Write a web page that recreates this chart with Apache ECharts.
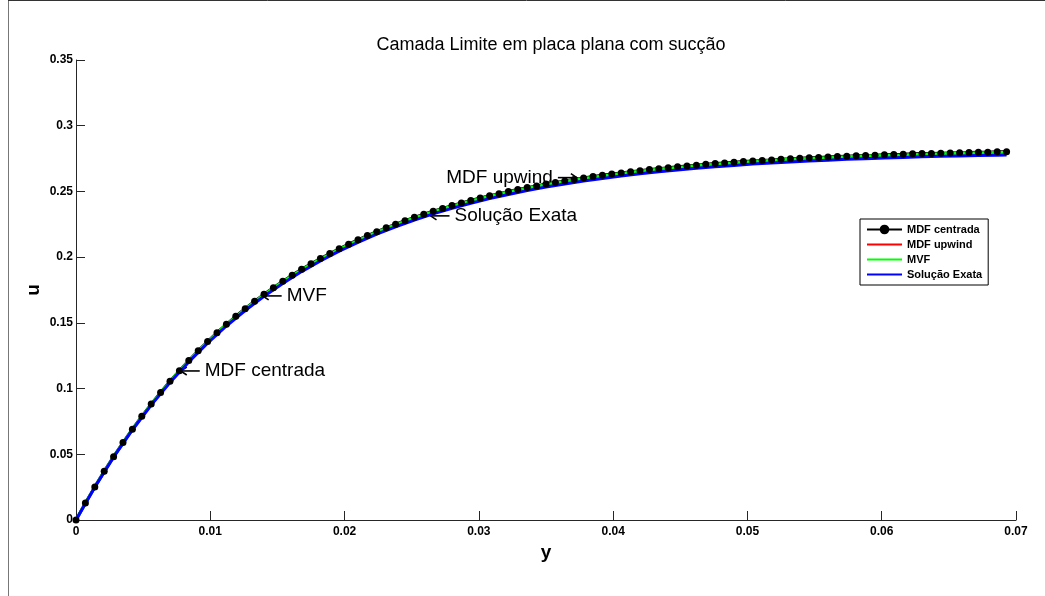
<!DOCTYPE html>
<html>
<head>
<meta charset="utf-8">
<script src="https://cdn.jsdelivr.net/npm/echarts/dist/echarts.min.js"></script>
<style>
  html, body { margin: 0; padding: 0; background: #fff; }
  #main { width: 1045px; height: 596px; }
</style>
</head>
<body>
<div id="main"></div>
<script>
// y (distance from the plate) for the MDF centrada nodes
const yDots = [0, 0.0007, 0.0014, 0.0021, 0.0028, 0.0035, 0.0042, 0.0049, 0.0056, 0.0063,
  0.007, 0.0077, 0.0084, 0.0091, 0.0098, 0.0105, 0.0112, 0.0119, 0.0126, 0.0133,
  0.014, 0.0147, 0.0154, 0.0161, 0.0168, 0.0175, 0.0182, 0.0189, 0.0196, 0.0203,
  0.021, 0.0217, 0.0224, 0.0231, 0.0238, 0.0245, 0.0252, 0.0259, 0.0266, 0.0273,
  0.028, 0.0287, 0.0294, 0.0301, 0.0308, 0.0315, 0.0322, 0.0329, 0.0336, 0.0343,
  0.035, 0.0357, 0.0364, 0.0371, 0.0378, 0.0385, 0.0392, 0.0399, 0.0406, 0.0413,
  0.042, 0.0427, 0.0434, 0.0441, 0.0448, 0.0455, 0.0462, 0.0469, 0.0476, 0.0483,
  0.049, 0.0497, 0.0504, 0.0511, 0.0518, 0.0525, 0.0532, 0.0539, 0.0546, 0.0553,
  0.056, 0.0567, 0.0574, 0.0581, 0.0588, 0.0595, 0.0602, 0.0609, 0.0616, 0.0623,
  0.063, 0.0637, 0.0644, 0.0651, 0.0658, 0.0665, 0.0672, 0.0679, 0.0686, 0.0693]

const uCentrada = [0, 0.0129, 0.0252, 0.0370, 0.0482, 0.0589, 0.0691, 0.0789, 0.0882, 0.0971,
  0.1055, 0.1136, 0.1213, 0.1287, 0.1358, 0.1425, 0.1489, 0.1550, 0.1608, 0.1664,
  0.1717, 0.1768, 0.1816, 0.1863, 0.1907, 0.1949, 0.1989, 0.2027, 0.2064, 0.2099,
  0.2132, 0.2164, 0.2194, 0.2223, 0.2251, 0.2277, 0.2303, 0.2327, 0.2350, 0.2371,
  0.2392, 0.2412, 0.2431, 0.2450, 0.2467, 0.2483, 0.2499, 0.2514, 0.2529, 0.2542,
  0.2556, 0.2568, 0.2580, 0.2591, 0.2602, 0.2613, 0.2623, 0.2632, 0.2641, 0.2650,
  0.2658, 0.2666, 0.2673, 0.2680, 0.2687, 0.2694, 0.2700, 0.2706, 0.2712, 0.2717,
  0.2722, 0.2727, 0.2732, 0.2736, 0.2740, 0.2745, 0.2748, 0.2752, 0.2756, 0.2759,
  0.2762, 0.2765, 0.2768, 0.2771, 0.2774, 0.2776, 0.2779, 0.2781, 0.2783, 0.2786,
  0.2788, 0.2789, 0.2791, 0.2793, 0.2795, 0.2796, 0.2798, 0.2799, 0.2801, 0.2802]

// y for the continuous curves
const yLine = [0, 0.0014, 0.0028, 0.0042, 0.0056, 0.007, 0.0084, 0.0098, 0.0112, 0.0126,
  0.014, 0.0154, 0.0168, 0.0182, 0.0196, 0.021, 0.0224, 0.0238, 0.0252, 0.0266,
  0.028, 0.0294, 0.0308, 0.0322, 0.0336, 0.035, 0.0364, 0.0378, 0.0392, 0.0406,
  0.042, 0.0434, 0.0448, 0.0462, 0.0476, 0.049, 0.0504, 0.0518, 0.0532, 0.0546,
  0.056, 0.0574, 0.0588, 0.0602, 0.0616, 0.063, 0.0644, 0.0658, 0.0672, 0.0686, 0.0693]

const uUpwind = [0, 0.0251, 0.0479, 0.0687, 0.0877, 0.1050, 0.1207, 0.1350, 0.1481, 0.1600,
  0.1708, 0.1807, 0.1897, 0.1978, 0.2053, 0.2121, 0.2183, 0.2239, 0.2290, 0.2337,
  0.2380, 0.2418, 0.2454, 0.2486, 0.2515, 0.2542, 0.2566, 0.2588, 0.2609, 0.2627,
  0.2644, 0.2659, 0.2673, 0.2686, 0.2697, 0.2708, 0.2717, 0.2726, 0.2734, 0.2741,
  0.2748, 0.2754, 0.2759, 0.2764, 0.2769, 0.2773, 0.2777, 0.2780, 0.2783, 0.2786, 0.2787]

const uMvf = [0, 0.0252, 0.0481, 0.0690, 0.0880, 0.1053, 0.1211, 0.1355, 0.1486, 0.1605,
  0.1714, 0.1813, 0.1903, 0.1985, 0.2060, 0.2128, 0.2190, 0.2247, 0.2298, 0.2345,
  0.2388, 0.2427, 0.2463, 0.2495, 0.2524, 0.2551, 0.2575, 0.2598, 0.2618, 0.2636,
  0.2653, 0.2669, 0.2682, 0.2695, 0.2707, 0.2717, 0.2727, 0.2736, 0.2744, 0.2751,
  0.2757, 0.2763, 0.2769, 0.2774, 0.2778, 0.2783, 0.2786, 0.2790, 0.2793, 0.2796, 0.2797]

const uExata = [0, 0.0250, 0.0478, 0.0685, 0.0874, 0.1046, 0.1203, 0.1346, 0.1476, 0.1594,
  0.1702, 0.1800, 0.1890, 0.1971, 0.2046, 0.2113, 0.2175, 0.2231, 0.2282, 0.2329,
  0.2371, 0.2410, 0.2445, 0.2477, 0.2506, 0.2533, 0.2557, 0.2579, 0.2599, 0.2618,
  0.2634, 0.2650, 0.2663, 0.2676, 0.2688, 0.2698, 0.2708, 0.2716, 0.2724, 0.2731,
  0.2738, 0.2744, 0.2749, 0.2754, 0.2759, 0.2763, 0.2767, 0.2770, 0.2773, 0.2776, 0.2777]

// text annotations with an arrow: [label, y, u, arrow direction]
const notes = [
  ['MDF centrada', 0.0078, 0.1134, 'left'],
  ['MVF', 0.0139, 0.1705, 'left'],
  ['Solu\u00e7\u00e3o Exata', 0.0264, 0.2314, 'left'],
  ['MDF upwind', 0.0373, 0.2605, 'right']
]

const FONT = '"Liberation Sans", Arial, Helvetica, sans-serif'
const AXIS_COLOR = '#262626'

const pairs = (xs, ys) => xs.map((x, i) => [x, ys[i]])

const chart = echarts.init(document.getElementById('main'))

const axisCommon = {
  axisLine: { lineStyle: { color: AXIS_COLOR, width: 1 } },
  axisTick: { inside: true, length: 9, lineStyle: { color: AXIS_COLOR } },
  splitLine: { show: false },
  axisLabel: {
    color: '#000',
    fontFamily: FONT,
    fontWeight: 'bold',
    fontSize: 12
  },
  nameTextStyle: {
    color: '#000',
    fontFamily: FONT,
    fontWeight: 'bold',
    fontSize: 19
  }
}

// line-only legend entries: hide the marker drawn in the middle of the icon
const noMarker = { opacity: 0 }

const option = {
  animation: false,
  backgroundColor: '#fff',
  title: {
    text: 'Camada Limite em placa plana com suc\u00e7\u00e3o',
    left: 546,
    top: 31,
    textAlign: 'center',
    textStyle: { fontFamily: FONT, fontSize: 18, fontWeight: 'normal', color: '#000' }
  },
  grid: { left: 76, right: 29, top: 60, bottom: 76, containLabel: false },
  legend: {
    orient: 'vertical',
    left: 860,
    top: 219,
    padding: [5, 6, 5, 6],
    itemWidth: 35,
    itemHeight: 12,
    itemGap: 4,
    borderColor: '#000',
    borderWidth: 1,
    borderRadius: 0,
    backgroundColor: '#fff',
    textStyle: { fontFamily: FONT, fontWeight: 'bold', fontSize: 11, color: '#000' },
    data: [
      { name: 'MDF centrada' },
      { name: 'MDF upwind', itemStyle: noMarker },
      { name: 'MVF', itemStyle: noMarker },
      { name: 'Solu\u00e7\u00e3o Exata', itemStyle: noMarker }
    ]
  },
  xAxis: Object.assign({}, axisCommon, {
    type: 'value',
    min: 0,
    max: 0.07,
    interval: 0.01,
    name: 'y',
    nameLocation: 'middle',
    nameGap: 18,
    axisLabel: Object.assign({}, axisCommon.axisLabel, { margin: 6 })
  }),
  yAxis: Object.assign({}, axisCommon, {
    type: 'value',
    min: 0,
    max: 0.35,
    interval: 0.05,
    axisLine: { show: true, lineStyle: { color: AXIS_COLOR, width: 1 } },
    axisLabel: Object.assign({}, axisCommon.axisLabel, { margin: 3 })
  }),
  series: [
    {
      name: 'MDF centrada',
      type: 'line',
      data: pairs(yDots, uCentrada),
      symbol: 'circle',
      symbolSize: 7,
      showAllSymbol: true,
      itemStyle: { color: '#000' },
      lineStyle: { color: '#000', width: 3 }
    },
    {
      name: 'MDF upwind',
      type: 'line',
      data: pairs(yLine, uUpwind),
      symbol: 'none',
      lineStyle: { color: '#ff0000', width: 2 },
      itemStyle: { color: '#ff0000' }
    },
    {
      name: 'MVF',
      type: 'line',
      data: pairs(yLine, uMvf),
      symbol: 'none',
      lineStyle: { color: '#00ff00', width: 3 },
      itemStyle: { color: '#00ff00' }
    },
    {
      name: 'Solu\u00e7\u00e3o Exata',
      type: 'line',
      data: pairs(yLine, uExata),
      symbol: 'none',
      lineStyle: { color: '#0000ff', width: 3 },
      itemStyle: { color: '#0000ff' }
    }
  ]
}

chart.setOption(option)

// annotations anchored in data coordinates, plus the y-axis title and the figure frame
const graphics = notes.map(([label, x, u, dir]) => {
  const p = chart.convertToPixel({ gridIndex: 0 }, [x, u])
  const s = dir === 'left' ? 1 : -1
  const arrowStyle = { stroke: '#000', lineWidth: 1.6, fill: null }
  return {
    type: 'group',
    x: p[0],
    y: p[1],
    z: 100,
    children: [
      { type: 'polyline', shape: { points: [[0, 0], [s * 19, 0]] }, style: arrowStyle },
      { type: 'polyline', shape: { points: [[s * 6, -4], [0, 0], [s * 6, 4]] }, style: arrowStyle },
      {
        type: 'text',
        x: s * 24,
        y: 0,
        style: {
          text: label,
          fill: '#000',
          font: '19px ' + FONT,
          textAlign: dir === 'left' ? 'left' : 'right',
          textVerticalAlign: 'middle'
        }
      }
    ]
  }
})
const mid = chart.convertToPixel({ gridIndex: 0 }, [0, 0.175])
graphics.push(
  {
    type: 'text',
    x: 34,
    y: mid[1],
    rotation: Math.PI / 2,
    style: {
      text: 'u',
      fill: '#000',
      font: 'bold 19px ' + FONT,
      textAlign: 'center',
      textVerticalAlign: 'middle'
    }
  },
  { type: 'line', shape: { x1: 8.5, y1: 0, x2: 8.5, y2: 596 }, style: { stroke: '#777', lineWidth: 1 } },
  { type: 'line', shape: { x1: 8, y1: 0.5, x2: 1045, y2: 0.5 }, style: { stroke: '#333', lineWidth: 1 } }
)
chart.setOption({ graphic: graphics })
</script>
</body>
</html>
